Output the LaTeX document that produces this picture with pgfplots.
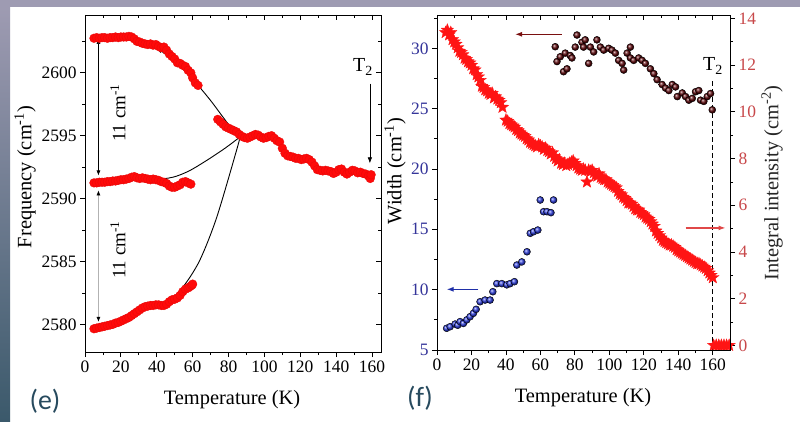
\documentclass[border=0pt]{standalone}
\usepackage{fontspec}
\setmainfont{Liberation Serif}
\newfontfamily\panelfont{Carlito}
\usepackage{pgfplots}
\pgfplotsset{compat=1.18}
\usetikzlibrary{arrows.meta}

\definecolor{bandtop}{HTML}{9E9BB2}
\definecolor{bandbot}{HTML}{3B596B}
\definecolor{panelink}{HTML}{274A5E}
\definecolor{dotred}{HTML}{FF0A0A}
\definecolor{starred}{HTML}{FF1414}
\definecolor{brownball}{HTML}{5E080C}
\definecolor{blueball}{HTML}{2F3FE0}
\definecolor{bluetext}{HTML}{35359A}
\definecolor{redtext}{HTML}{C8484A}
\definecolor{darkredarrow}{HTML}{7A1010}
\definecolor{bluearrow}{HTML}{1F2FA8}
\definecolor{redarrow}{HTML}{E04848}

% filled five-pointed star marker
\pgfdeclareplotmark{fstar}{%
  \pgfpathmoveto{\pgfpointpolar{90}{\pgfplotmarksize}}%
  \pgfpathlineto{\pgfpointpolar{126}{0.42\pgfplotmarksize}}%
  \pgfpathlineto{\pgfpointpolar{162}{\pgfplotmarksize}}%
  \pgfpathlineto{\pgfpointpolar{198}{0.42\pgfplotmarksize}}%
  \pgfpathlineto{\pgfpointpolar{234}{\pgfplotmarksize}}%
  \pgfpathlineto{\pgfpointpolar{270}{0.42\pgfplotmarksize}}%
  \pgfpathlineto{\pgfpointpolar{306}{\pgfplotmarksize}}%
  \pgfpathlineto{\pgfpointpolar{342}{0.42\pgfplotmarksize}}%
  \pgfpathlineto{\pgfpointpolar{18}{\pgfplotmarksize}}%
  \pgfpathlineto{\pgfpointpolar{54}{0.42\pgfplotmarksize}}%
  \pgfpathclose
  \pgfusepathqfillstroke
}

\pgfplotsset{
  base/.style={
    scale only axis, anchor=south west,
    axis line style={line width=0.9bp},
    every tick/.style={black, line width=0.8bp},
    major tick length=5bp, minor tick length=3bp,
    tick label style={font=\fontsize{17.5}{17.5}\selectfont},
    /pgf/number format/assume math mode=true,
    /pgf/number format/1000 sep={},
  },
  bandmark/.style={only marks, mark=*, mark size=4.4bp,
    mark options={fill=dotred, draw=dotred!90!black, line width=0.3bp}},
}

\begin{document}
\begin{tikzpicture}[x=1bp,y=1bp]
\path[use as bounding box] (0,0) rectangle (800,421);
\fill[white] (0,0) rectangle (800,421);
\fill[bandtop] (0,414) rectangle (800,421);
\shade[top color=bandtop, bottom color=bandbot] (0,0) rectangle (10,414);

%================ panel (e): frequency ================
\begin{axis}[base, at={(85bp,69bp)}, width=296bp, height=337bp,
  xmin=0, xmax=165, ymin=2577.8, ymax=2604.6,
  xtick={0,20,...,160}, minor xtick={10,30,...,150},
  ytick={2580,2585,...,2600}, minor ytick={2582.5,2587.5,2592.5,2597.5,2602.5},
  xtick pos=bottom, ytick pos=left, tick align=outside]
% upper branch and high-temperature branch
\addplot[bandmark] coordinates {
(5,2602.75)(6.5,2602.8)(8,2602.75)(9.5,2602.8)(11,2602.8)(12.5,2602.75)(14,2602.8)
(15.5,2602.8)(17,2602.85)(18.5,2602.8)(20,2602.85)(21.5,2602.85)(23,2602.85)(24.5,2602.9)
(26,2602.85)(27.5,2602.7)(29,2602.5)(30.5,2602.45)(32,2602.35)(33.5,2602.3)(35,2602.25)
(36.5,2602.3)(38,2602.2)(39.5,2602.25)(41,2602.1)(42.5,2602.0)(44,2602.05)(45.5,2601.8)
(47,2601.5)(48.5,2601.3)(50,2601.1)(51.5,2600.8)(53,2600.75)(54.5,2600.6)(56,2600.5)
(57.5,2600.2)(59,2600.0)(60,2599.6)(61.5,2599.2)(63,2599.0)
(74,2596.3)(75.5,2596.1)(77,2595.9)(78.5,2595.7)(80,2595.6)(81.5,2595.5)(83,2595.4)
(84.5,2595.3)(86,2595.1)(87.5,2594.95)(89,2594.85)(90.5,2594.8)(92,2594.9)(93.5,2595.0)
(95,2595.1)(96.5,2595.05)(98,2594.9)(99.5,2594.8)(101,2594.85)(102.5,2594.95)(104,2595.0)
(105.5,2594.8)(107,2594.6)(108.5,2594.5)(110,2594.0)(111.5,2593.6)(113,2593.4)(114.5,2593.35)
(116,2593.3)(117.5,2593.2)(119,2593.2)(120.5,2593.1)(122,2593.15)(123.5,2593.2)(125,2593.1)
(126.5,2592.9)(128,2592.6)(129.5,2592.3)(131,2592.25)(132.5,2592.2)(134,2592.25)(135.5,2592.2)
(137,2592.15)(138.5,2592.0)(140,2592.1)(141.5,2592.3)(143,2592.35)(144.5,2592.1)(146,2591.95)
(147.5,2592.1)(149,2592.25)(150.5,2592.2)(152,2592.05)(153.5,2592.1)(155,2592.0)(156.5,2591.95)
(158,2591.8)(159,2591.6)(159.5,2591.9)};
% middle branch
\addplot[bandmark] coordinates {
(5,2591.25)(6.5,2591.25)(8,2591.3)(9.5,2591.3)(11,2591.3)(12.5,2591.35)(14,2591.35)
(15.5,2591.4)(17,2591.4)(18.5,2591.45)(20,2591.5)(21.5,2591.5)(23,2591.55)(24.5,2591.6)
(26,2591.7)(27.5,2591.75)(29,2591.65)(30.5,2591.6)(32,2591.65)(33.5,2591.6)(35,2591.55)
(36.5,2591.5)(38,2591.55)(39.5,2591.5)(41,2591.45)(42.5,2591.35)(44,2591.3)(45.5,2591.2)
(47,2591.0)(48.5,2590.9)(50,2590.9)(51.5,2591.0)(53,2591.1)(54.5,2591.3)(56,2591.35)
(57.5,2591.25)(59,2591.15)};
% lower branch
\addplot[bandmark] coordinates {
(5,2579.65)(6.5,2579.7)(8,2579.75)(9.5,2579.8)(11,2579.85)(12.5,2579.9)(14,2579.95)
(15.5,2580.0)(17,2580.1)(18.5,2580.15)(20,2580.25)(21.5,2580.35)(23,2580.45)(24.5,2580.55)
(26,2580.7)(27.5,2580.85)(29,2581.0)(30.5,2581.15)(32,2581.3)(33.5,2581.4)(35,2581.45)
(36.5,2581.5)(38,2581.5)(39.5,2581.55)(41,2581.55)(42.5,2581.5)(44,2581.5)(45.5,2581.6)
(47,2581.8)(48.5,2581.95)(50,2582.0)(51.5,2582.1)(53,2582.3)(54.5,2582.6)(56,2582.8)
(57.5,2582.9)(58.5,2583.0)(59.5,2583.1)(60,2583.2)};
% guide curves from the splitting point
\addplot[black, line width=0.9bp, smooth, -{Latex[length=6bp,width=4.5bp]}] coordinates {
(86.4,2594.9)(80,2595.9)(70,2597.8)(60,2599.5)(50,2600.9)(40,2602.0)};
\addplot[black, line width=0.9bp, smooth, -{Latex[length=6bp,width=4.5bp]}] coordinates {
(86.4,2594.9)(78,2594.0)(68,2593.05)(58,2592.2)(49,2591.7)(38,2591.5)(27,2591.5)};
\addplot[black, line width=0.9bp, smooth, -{Latex[length=6bp,width=4.5bp]}] coordinates {
(86.4,2594.9)(84.5,2593.85)(73.4,2588.5)(64,2585.1)(54.8,2583.0)(45.5,2581.6)};
% splitting markers
\draw[black, line width=0.6bp, {Latex[length=5bp,width=4bp]}-{Latex[length=5bp,width=4bp]}]
  (axis cs:7.5,2591.84) -- (axis cs:7.5,2602.7);
\draw[black!30, line width=0.6bp, {Latex[length=5bp,width=4bp,color=black]}-{Latex[length=5bp,width=4bp,color=black]}]
  (axis cs:7.5,2580.2) -- (axis cs:7.5,2590.65);
\draw[black, line width=0.7bp, -{Latex[length=6bp,width=4.5bp]}]
  (axis cs:158.8,2599.15) -- (axis cs:158.8,2592.8);
\end{axis}
\begin{axis}[base, at={(85bp,69bp)}, width=296bp, height=337bp,
  xmin=0, xmax=165, ymin=2577.8, ymax=2604.6,
  xtick={0,20,...,160}, minor xtick={10,30,...,150},
  ytick={2580,2585,...,2600}, minor ytick={2582.5,2587.5,2592.5,2597.5,2602.5},
  xtick pos=top, ytick pos=right, tick align=inside,
  xticklabels={}, yticklabels={}]
\end{axis}

\node[font=\fontsize{20.5}{20.5}\selectfont] at (232,21) {Temperature (K)};
\node[font=\fontsize{20.5}{20.5}\selectfont, rotate=90] at (25,244) {Frequency (cm\textsuperscript{-1})};
\node[font=\fontsize{19}{19}\selectfont, rotate=90] at (118,308) {11 cm\textsuperscript{-1}};
\node[font=\fontsize{19}{19}\selectfont, rotate=90] at (118,171) {11 cm\textsuperscript{-1}};
\node[font=\fontsize{20}{20}\selectfont] at (363,354) {T\textsubscript{2}};
\node[font=\panelfont\fontsize{28}{28}\selectfont, text=panelink] at (45,20) {(e)};

%================ panel (f): width and intensity ================
\begin{axis}[base, at={(437bp,71bp)}, width=293bp, height=335bp,
  xmin=0, xmax=170, ymin=5, ymax=32.76,
  xtick={0,20,...,160}, minor xtick={10,30,...,150},
  ytick={5,10,...,30}, minor ytick={7.5,12.5,...,32.5},
  xtick pos=bottom, ytick pos=left, tick align=outside,
  yticklabel style={text=bluetext}]
% width of the upper mode
\addplot[only marks, mark=ball, mark size=3.5bp, mark options={ball color=brownball}] coordinates {
(68.6,30.13)(69.6,28.9)(71.5,29.3)(73.4,28.06)(74.4,29.6)(75.4,28.3)(77.3,29.4)(78.3,29.2)
(80.2,30.1)(81.2,31.1)(84.1,30.5)(85,30.1)(86,30.7)(88,28.75)(89,30.1)(90.9,29.7)(92.8,30.7)
(94.8,30.1)(96.7,29.85)(99.6,30)(101.5,29.85)(103.5,29.6)(105.4,29.0)(107.4,28.75)(108.3,28.2)
(110.3,29.6)(112.2,30.1)(112.2,29.2)(114.1,29.0)(117,29.2)(119,29.0)(120.9,28.75)(123.8,28.3)
(125.8,27.9)(127.7,27.4)(130.6,27.0)(132.6,26.7)(134.5,26.5)(136.5,27.0)(138.4,26.8)(139.4,26.0)
(142.3,26.3)(144.2,26.0)(146.1,25.7)(148.1,25.85)(150,26.4)(151.9,26.5)(152.9,25.7)(154.8,25.6)
(156.8,26.0)(158.7,26.25)(159.7,24.9)};
% width of the lower mode
\addplot[only marks, mark=ball, mark size=3.5bp, mark options={ball color=blueball}] coordinates {
(5.6,6.8)(7.6,6.93)(10.5,7.15)(12,7.05)(13.4,7.35)(15.3,7.2)(17.3,7.5)(19.2,7.76)(21.1,8.04)
(22.7,8.37)(25,9.0)(27.9,9.14)(30.8,9.14)(32.4,9.83)(34.7,10.5)(37.6,10.5)(40.5,10.4)(42.4,10.5)
(44.9,10.66)(46.3,12.04)(49.2,12.3)(52.2,13.14)(54.1,14.67)(56,14.8)(58.5,14.94)(59.9,17.43)
(61.8,16.46)(63.8,16.46)(66.1,16.38)(67.6,17.43)};
\addplot[black, line width=1.3bp, dash pattern=on 5bp off 3bp] coordinates {(160,5)(160,27.5)};
\draw[darkredarrow, line width=1.2bp, -{Latex[length=7bp,width=5bp]}]
  (axis cs:72.5,31.16) -- (axis cs:45.3,31.16);
\draw[bluearrow, line width=1.2bp, -{Latex[length=7bp,width=5bp]}]
  (axis cs:24,10.03) -- (axis cs:5.6,10.03);
\end{axis}
\begin{axis}[base, at={(437bp,71bp)}, width=293bp, height=335bp,
  xmin=0, xmax=170, ymin=-0.2, ymax=14.15,
  xtick=\empty, ytick={0,2,...,14}, minor ytick={1,3,...,13},
  ytick pos=right, tick align=outside,
  yticklabel style={text=redtext}]
% integral intensity
\addplot[only marks, mark=fstar, mark size=6.5bp, mark options={fill=starred, draw=starred, line width=0.3bp}] coordinates {
(5,13.4)(6,13.5)(7,13.3)(8,13.4)(9,13.1)(10,13.0)(11,12.9)(12,12.75)(13,12.6)(14,12.55)
(15,12.45)(16,12.3)(17,12.25)(18,12.15)(19,12.1)(20,12.0)(21,11.85)(22,11.8)(23,11.6)(24,11.5)
(25,11.35)(26,11.1)(27,11.05)(28,10.95)(29,10.9)(30,10.8)(31,10.75)(32,10.8)(33,10.6)(34,10.65)
(35,10.55)(36,10.5)(37,10.4)(38,10.2)(40,9.65)(41,9.6)(42,9.5)(43,9.45)(44,9.4)(45,9.35)
(46,9.25)(47,9.2)(48,9.1)(49,9.05)(50,9.0)(51,8.95)(52,8.85)(53,8.8)(54,8.7)(55,8.65)
(56,8.6)(57,8.55)(58,8.5)(59,8.6)(60,8.55)(61,8.5)(62,8.4)(63,8.45)(64,8.35)(65,8.3)
(66,8.2)(67,8.25)(68,8.1)(69,8.0)(70,7.9)(71,7.95)(72,7.8)(73,7.75)(74,7.8)(75,7.7)
(76,7.75)(77,7.8)(78,7.85)(79,7.9)(80,7.8)(81,7.7)(82,7.6)(83,7.55)(84,7.5)(85,7.55)
(86,7.5)(87,7.0)(88,7.5)(89,7.45)(90,7.5)(91,7.4)(92,7.3)(93,7.25)(94,7.35)(95,7.2)
(96,7.15)(97,7.1)(98,7.1)(99,7.0)(100,6.95)(101,6.9)(102,6.85)(103,6.8)(104,6.75)(105,6.6)
(106,6.5)(107,6.45)(108,6.35)(109,6.3)(110,6.2)(111,6.1)(112,6.1)(113,6.05)(114,5.95)(115,5.85)
(116,5.8)(117,5.8)(118,5.7)(119,5.65)(120,5.6)(121,5.5)(122,5.45)(123,5.4)(124,5.3)(125,5.2)
(126,5.1)(127,4.9)(128,4.8)(129,4.7)(130,4.6)(131,4.5)(132,4.45)(133,4.4)(134,4.35)(135,4.3)
(136,4.3)(137,4.25)(138,4.2)(139,4.1)(140,4.05)(141,4.0)(142,3.95)(143,3.9)(144,3.85)(145,3.8)
(146,3.75)(147,3.7)(148,3.65)(149,3.6)(150,3.55)(151,3.5)(152,3.5)(153,3.45)(154,3.4)(155,3.35)
(156,3.3)(157,3.2)(158,3.1)(159,3.0)(160,2.9)
(160.5,0)(162,0)(163.5,0)(165,0)(166.5,0)(168,0)(169.5,0)};
\draw[redarrow, line width=1.2bp, -{Latex[length=7bp,width=5bp]}]
  (axis cs:144.2,5.03) -- (axis cs:167.4,5.03);
\end{axis}
\begin{axis}[base, at={(437bp,71bp)}, width=293bp, height=335bp,
  xmin=0, xmax=170, ymin=5, ymax=32.76,
  xtick={0,20,...,160}, minor xtick={10,30,...,150}, ytick=\empty,
  xtick pos=top, tick align=inside, xticklabels={}]
\end{axis}

\node[font=\fontsize{20.5}{20.5}\selectfont] at (583,23) {Temperature (K)};
\node[font=\fontsize{20.5}{20.5}\selectfont, rotate=90] at (395,250) {Width (cm\textsuperscript{-1})};
\node[font=\fontsize{20.5}{20.5}\selectfont, rotate=90, text=black!85] at (772,238) {Integral intensity (cm\textsuperscript{-2})};
\node[font=\fontsize{20}{20}\selectfont] at (713,355) {T\textsubscript{2}};
\node[font=\panelfont\fontsize{28}{28}\selectfont, text=panelink] at (420,23) {(f)};
\end{tikzpicture}
\end{document}
